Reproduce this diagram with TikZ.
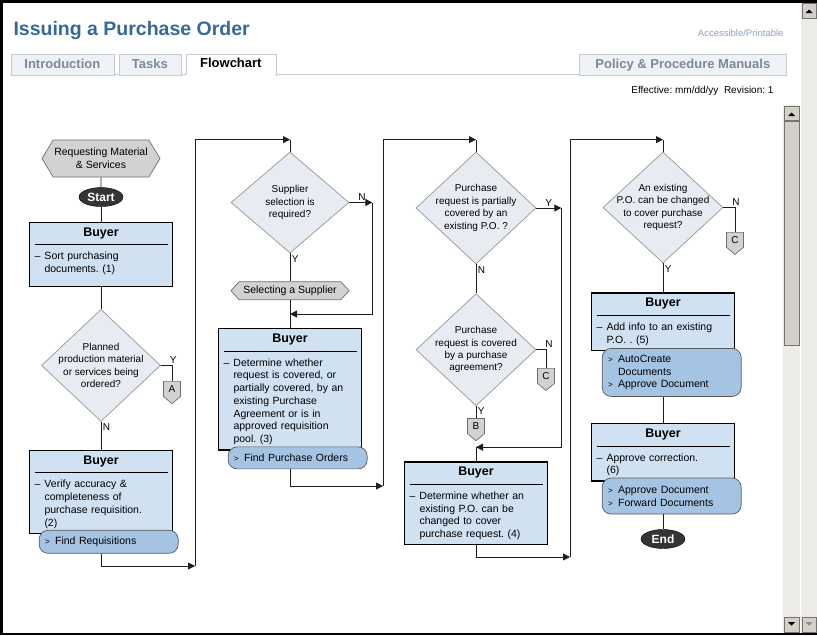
\documentclass[tikz,border=0pt]{standalone}
\usepackage{fontspec}
\setmainfont{Liberation Sans}
\usetikzlibrary{arrows.meta,positioning,shapes.geometric,shapes.symbols}
\frenchspacing

\definecolor{titleblue}{RGB}{54,104,160}
\definecolor{tabgray}{RGB}{128,136,146}
\definecolor{tabfill}{RGB}{238,241,245}
\definecolor{tabline}{RGB}{200,204,210}
\definecolor{linkgray}{RGB}{140,160,190}
\definecolor{boxblue}{RGB}{208,225,242}
\definecolor{pillblue}{RGB}{165,196,227}
\definecolor{diafill}{RGB}{231,236,242}
\definecolor{diadraw}{RGB}{150,150,150}
\definecolor{hexfill}{RGB}{210,210,210}
\definecolor{hexdraw}{RGB}{110,110,110}
\definecolor{termfill}{RGB}{52,52,52}
\definecolor{barface}{RGB}{212,208,200}
\definecolor{bartrack}{RGB}{236,235,232}
\definecolor{flowline}{RGB}{30,30,30}

% box body: header, rule, dashed item
\newcommand{\buyertask}[2][0pt]{%
  {\noindent\centering\fontsize{12.5}{14}\selectfont\bfseries Buyer\par}%
  \vspace{5.6pt}\hrule height 0.6pt\vspace{7.4pt}%
  \begingroup\let\\\newline
  \hangindent=10pt\hangafter=1\noindent\makebox[10pt][l]{--}#2\rule[-#1]{0pt}{#1}\par
  \endgroup}
\newcommand{\pillitem}{\makebox[10pt][l]{\fontsize{8}{8}\selectfont >}}
\newcommand{\pillindent}{\hspace*{10pt}}

\begin{document}
\begin{tikzpicture}[x=1pt,y=-1pt,>={Triangle[length=7pt,width=7pt]},
    font=\fontsize{10.5}{12.75}\selectfont,
    buyer/.style={draw=black,line width=1.4pt,fill=boxblue,text width=133pt,
      inner xsep=5pt,inner ysep=5pt,align=left,anchor=north},
    pill/.style={draw=black!65,line width=0.7pt,fill=pillblue,rounded corners=9pt,
      text width=127pt,inner xsep=6pt,inner ysep=2pt,align=left},
    decision/.style={diamond,draw=diadraw,fill=diafill,line width=0.7pt,inner sep=0pt},
    dtext/.style={align=center,font=\fontsize{10}{12.4}\selectfont},
    procref/.style={signal,signal to=east and west,draw=hexdraw,fill=hexfill,
      line width=0.7pt,inner sep=0pt,align=center},
    terminal/.style={ellipse,draw=black,fill=termfill,text=white,
      font=\fontsize{12}{12}\selectfont\bfseries,minimum width=44pt,
      minimum height=19pt,inner sep=0pt},
    offpage/.style={signal,signal to=south,draw=hexdraw,fill=hexfill,line width=0.7pt,
      minimum width=17pt,minimum height=18pt,inner sep=0pt,signal pointer angle=100,
      font=\fontsize{10}{10}\selectfont},
    yn/.style={font=\fontsize{10}{10}\selectfont,inner sep=1.5pt},
    flow/.style={draw=flowline,line width=0.8pt},
    tab/.style={draw=tabline,fill=tabfill,line width=0.7pt,text=tabgray,
      font=\fontsize{13}{13}\selectfont\bfseries,minimum height=20.5pt,
      text height=9.5pt,text depth=2.5pt,inner sep=0pt,anchor=north west},
    sbtn/.style={fill=barface,draw=black!55,line width=0.5pt}]
  \useasboundingbox (0,0) rectangle (817,635);

  % page chrome
  \node[anchor=west,text=titleblue,font=\fontsize{19.5}{20}\selectfont\bfseries] (title) at (10,30) {Issuing a Purchase Order};
  \node[anchor=east,text=linkgray,font=\fontsize{9.5}{9.5}\selectfont] (access) at (787,33) {Accessible/Printable};
  \draw[tabline,line width=0.7pt] (10,74) -- (786,74);
  \node[tab,minimum width=103pt] (tintro) at (10.5,54) {Introduction};
  \node[tab,minimum width=62pt] (ttasks) at (118.5,54) {Tasks};
  \node[tab,minimum width=90pt,minimum height=21pt,fill=white,text=black] (tflow) at (185.5,53.5) {Flowchart};
  \draw[white,line width=1.2pt] ([xshift=0.8pt]tflow.south west) -- ([xshift=-0.8pt]tflow.south east);
  \node[tab,minimum width=207pt] (tpolicy) at (579,54) {Policy \& Procedure Manuals};
  \node[anchor=east,font=\fontsize{10}{10}\selectfont] (eff) at (777,91) {Effective: mm/dd/yy\ \ Revision: 1};

  % scroll bars
  \fill[bartrack] (783,105) rectangle (800,633);
  \fill[bartrack] (800.5,0) rectangle (817,635);
  \draw[sbtn] (784,106) rectangle (799,120);
  \fill (788,116) -- (795,116) -- (791.5,112.5) -- cycle;
  \draw[sbtn] (784,121) rectangle (799,345);
  \draw[sbtn] (784,617) rectangle (799,632);
  \fill (788,622) -- (795,622) -- (791.5,625.5) -- cycle;
  \draw[sbtn] (802,3) rectangle (816,18);
  \fill (805.5,13) -- (812.5,13) -- (809,9.5) -- cycle;
  \draw[sbtn] (802,617) rectangle (816,632);
  \fill[black!45] (805.5,622) -- (812.5,622) -- (809,625.5) -- cycle;
  \draw[line width=2.5pt] (817,1.25) -- (1.25,1.25) -- (1.25,633.75) -- (817,633.75);

  % column 1
  \node[procref,minimum width=118pt,minimum height=37pt,signal pointer angle=118] (rm) at (101,158.5) {Requesting Material\\\& Services};
  \node[terminal,below=10pt of rm] (st) {Start};
  \node[buyer,below=15pt of st] (b1) {\buyertask[8.75pt]{Sort purchasing\\documents. (1)}};
  \node[decision,below=22pt of b1,minimum width=119pt,minimum height=112pt,
    label={[dtext]center:{Planned\\production material\\or services being\\ordered?}}] (d1) {};
  \node[buyer,below=28pt of d1] (b2) {\buyertask{Verify accuracy \&\\completeness of\\purchase requisition.\\(2)}};
  \node[pill,minimum height=23pt,below right=-4pt and 10pt of b2.south west] (p1) {\pillitem Find Requisitions};
  \node[offpage,anchor=north] (ca) at (172,381) {A};

  % column 2
  \node[decision,minimum width=118pt,minimum height=101pt,
    label={[dtext]center:{Supplier\\selection is\\required?}}] (d2) at (290,202.5) {};
  \node[procref,below=28pt of d2,minimum width=118pt,minimum height=18pt,signal pointer angle=96] (ss) {Selecting a Supplier};
  \node[buyer,below=28pt of ss] (b3) {\buyertask{Determine whether\\request is covered, or\\partially covered, by an\\existing Purchase\\Agreement or is in\\approved requisition\\pool. (3)}};
  \node[pill,minimum height=22pt,below right=-4pt and 10pt of b3.south west] (p3) {\pillitem Find Purchase Orders};

  % column 3
  \node[decision,minimum width=120pt,minimum height=112pt,
    label={[dtext]center:{Purchase\\request is partially\\covered by an\\existing P.O. ?}}] (d3) at (476,208) {};
  \node[decision,below=29pt of d3,minimum width=120pt,minimum height=112pt,
    label={[dtext]center:{Purchase\\request is covered\\by a purchase\\agreement?}}] (d4) {};
  \node[offpage,below=12pt of d4] (cb) {B};
  \node[offpage,anchor=north] (cc1) at (546,368) {C};
  \node[buyer,below=20pt of cb] (b4) {\buyertask{Determine whether an\\existing P.O. can be\\changed to cover\\purchase request. (4)}};

  % column 4
  \node[decision,minimum width=120pt,minimum height=111pt,
    label={[dtext]center:{An existing\\P.O. can be changed\\to cover purchase\\request?}}] (d5) at (663,207.5) {};
  \node[offpage,anchor=north] (cc2) at (735,232) {C};
  \node[buyer,below=29pt of d5] (b5) {\buyertask{Add info to an existing\\P.O. . (5)}};
  \node[pill,minimum height=48pt,below right=-3pt and 11pt of b5.south west] (p5) {\pillitem AutoCreate\\\pillindent Documents\\\pillitem Approve Document};
  \node[buyer] (b6) at (663,423) {\buyertask{Approve correction.\\(6)}};
  \node[pill,minimum height=36pt,below right=-4pt and 11pt of b6.south west] (p6) {\pillitem Approve Document\\\pillitem Forward Documents};
  \node[terminal] (en) at (663,539) {End};

  % turning points
  \coordinate (r1) at (195,566);
  \coordinate (r2) at (383,486);
  \coordinate (r3) at (570,557);
  \coordinate[above=12pt of d2.north] (t2);
  \coordinate[above=12pt of d3.north] (t3);
  \coordinate[above=12pt of d5.north] (t5);
  \coordinate[right=23pt of d2.east] (n2);
  \coordinate[above=14pt of b3.north] (m3);
  \coordinate[right=25pt of d3.east] (y3);
  \coordinate[above=14pt of b4.north] (m4);

  % connectors
  \draw[flow] (rm) -- (st);
  \draw[flow] (st) -- (b1);
  \draw[flow] (b1) -- (d1);
  \draw[flow] (d1.south) node[yn,below right]{N} -- (b2.north);
  \draw[flow] (d1.east) node[yn,above right=0pt and 7pt]{Y} -| (ca.north);
  \draw[flow,->] (b2.south |- p1.south) |- (r1);
  \draw[flow,->] (r1) |- (t2);
  \draw[flow] (t2) -- (d2.north);
  \draw[flow,->] (d2.east) node[yn,above right=0pt and 7pt]{N} -- (n2);
  \draw[flow,->] (n2) |- (m3);
  \draw[flow] (d2.south) node[yn,below right]{Y} -- (ss.north);
  \draw[flow] (ss.south) -- (b3.north);
  \draw[flow,->] (b3.south |- p3.south) |- (r2);
  \draw[flow,->] (r2) |- (t3);
  \draw[flow] (t3) -- (d3.north);
  \draw[flow,->] (d3.east) node[yn,above right=0pt and 7pt]{Y} -- (y3);
  \draw[flow,->] (y3) |- (m4);
  \draw[flow] (m4) -- (b4.north);
  \draw[flow] (d3.south) node[yn,below right]{N} -- (d4.north);
  \draw[flow] (d4.south) node[yn,below right]{Y} -- (cb.north);
  \draw[flow] (d4.east) node[yn,above right=0pt and 7pt]{N} -| (cc1.north);
  \draw[flow,->] (b4.south) |- (r3);
  \draw[flow,->] (r3) |- (t5);
  \draw[flow] (t5) -- (d5.north);
  \draw[flow] (d5.east) node[yn,above right=0pt and 7pt]{N} -| (cc2.north);
  \draw[flow] (d5.south) node[yn,below right]{Y} -- (b5.north);
  \draw[flow] (b5.south |- p5.south) -- (b6.north);
  \draw[flow] (b6.south |- p6.south) -- (en.north);
\end{tikzpicture}
\end{document}
